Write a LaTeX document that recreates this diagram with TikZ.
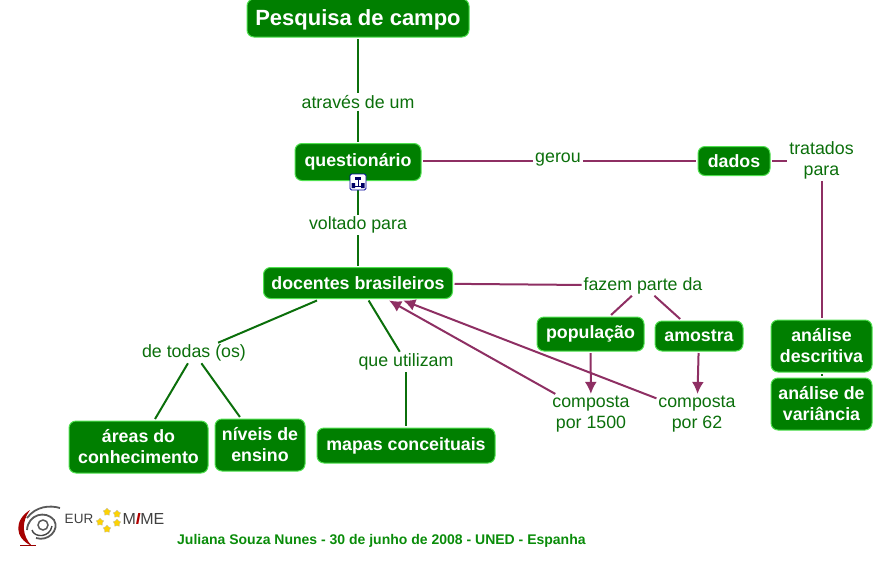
\documentclass[tikz,border=0pt]{standalone}
\usepackage{fontspec}
\setmainfont{Liberation Sans}
\usetikzlibrary{shapes.geometric,arrows.meta}
\definecolor{boxgreen}{HTML}{007F00}
\definecolor{boxrim}{HTML}{4FE04F}
\definecolor{linkgreen}{HTML}{0B6F0B}
\definecolor{linkpurple}{HTML}{8E2F63}
\tikzset{
    concept/.style={draw=boxrim, fill=boxgreen, text=white, line width=1pt, rounded corners=7pt,
        font=\fontsize{17.8}{21}\selectfont\bfseries, align=center, inner sep=0pt, outer sep=2pt},
    phrase/.style={text=linkgreen, font=\fontsize{17.8}{21}\selectfont, align=center, inner sep=1pt, outer sep=1pt},
    greenlink/.style={draw=linkgreen, line width=2pt},
    purplelink/.style={draw=linkpurple, line width=2pt},
    purplearrow/.style={purplelink, -{Latex[length=12pt,width=12pt]}}
}
\begin{document}
\begin{tikzpicture}[x=1pt,y=-1pt]
    \useasboundingbox (0,0) rectangle (875,560);

    % Concepts
    \node[concept, minimum width=222pt, minimum height=38pt, text depth=0pt, font=\fontsize{22}{25}\selectfont\bfseries] (pesquisa) at (358,18) {Pesquisa de campo};
    \node[concept, minimum width=126pt, minimum height=37pt] (questionario) at (358,162) {questionário};
    \node[concept, minimum width=72pt, minimum height=29pt] (dados) at (734,161) {dados};
    \node[concept, minimum width=189pt, minimum height=31pt] (docentes) at (358,283) {docentes brasileiros};
    \node[concept, minimum width=107pt, minimum height=34pt] (populacao) at (590.5,334) {população};
    \node[concept, minimum width=88pt, minimum height=30pt] (amostra) at (699,336) {amostra};
    \node[concept, minimum width=101pt, minimum height=52pt] (descritiva) at (821.5,346) {análise\\descritiva};
    \node[concept, minimum width=101pt, minimum height=52pt] (variancia) at (821.5,404) {análise de\\variância};
    \node[concept, minimum width=139pt, minimum height=52pt] (areas) at (138.5,447) {áreas do\\conhecimento};
    \node[concept, minimum width=90pt, minimum height=52pt] (niveis) at (260,445) {níveis de\\ensino};
    \node[concept, minimum width=178pt, minimum height=35pt] (mapas) at (406,445.5) {mapas conceituais};

    % Linking phrases
    \node[phrase] (atraves) at (358,102) {através de um};
    \node[phrase] (voltado) at (358,225) {voltado para};
    \node[phrase] (gerou) at (558,160) {gerou};
    \node[phrase] (tratados) at (821.5,160) {tratados\\para};
    \node[phrase] (fazem) at (643,285.5) {fazem parte da};
    \node[phrase] (detodas) at (194,353) {de todas (os)};
    \node[phrase] (utilizam) at (406,362) {que utilizam};
    \node[phrase] (comp1500) at (591,414) {composta\\por 1500};
    \node[phrase] (comp62) at (697,414) {composta\\por 62};

    % Green links
    \draw[greenlink] (pesquisa) -- (atraves);
    \draw[greenlink] (atraves) -- (questionario);
    \draw[greenlink] (questionario) -- (voltado);
    \draw[greenlink] (voltado) -- (docentes);
    \draw[greenlink] (docentes) -- (detodas);
    \draw[greenlink] (docentes) -- (utilizam);
    \draw[greenlink] (detodas) -- (areas);
    \draw[greenlink] (detodas) -- (niveis);
    \draw[greenlink] (utilizam) -- (mapas);
    \draw[greenlink] (descritiva) -- (variancia);

    % Purple links
    \draw[purplelink] (questionario.east |- dados) -- (gerou.west |- dados);
    \draw[purplelink] (gerou.east |- dados) -- (dados);
    \draw[purplelink] (dados) -- (tratados.west |- dados);
    \draw[purplelink] (tratados) -- (descritiva);
    \draw[purplelink] (docentes) -- (fazem);
    \draw[purplelink] (fazem) -- (populacao);
    \draw[purplelink] (fazem) -- (amostra);
    \draw[purplearrow] (populacao) -- (comp1500);
    \draw[purplearrow] (amostra) -- (comp62);
    \draw[purplearrow] (comp1500) -- (docentes);
    \draw[purplearrow] (comp62) -- (docentes);

    % Icon under questionario
    \node[draw=blue!60!black, fill=white, rounded corners=1.5pt, line width=0.8pt, minimum size=16pt, inner sep=0pt] (icone) at (358,182) {};
    \fill[blue!40!black] (355,176.5) rectangle (361,180);
    \draw[blue!40!black, line width=1pt] (358,180) -- (358,186) (353.5,186) -- (362.5,186);
    \fill[blue!40!black] (351.5,183) rectangle (355,188) (361,183) rectangle (364.5,188);

    % Logo
    \fill[red!65!black] (30,510) .. controls (14,520) and (14,538) .. (32,546) .. controls (22,536) and (21,522) .. cycle;
    \draw[red!60!black, line width=1.5pt] (20,545.5) -- (36,545.5);
    \draw[gray!70!black, line width=1.8pt] (27,518) .. controls (36,506) and (50,505) .. (60,508);
    \draw[gray!70!black, line width=1.8pt] (27,530) .. controls (28,514) and (46,510) .. (54,520) .. controls (60,530) and (48,542) .. (36,538);
    \draw[gray!55!black, line width=1.4pt] (32,530) .. controls (34,538) and (50,538) .. (52,526);
    \draw[gray!70!black, line width=1.5pt] (43,525) circle (5pt);
    \node[text=black!75, font=\fontsize{13.5}{16}\selectfont, inner sep=0pt] (logoeur) at (79,519) {EUR};
    \node[text=black!75, font=\fontsize{16}{16}\selectfont, inner sep=0pt] (logomime) at (143.5,519) {M\textcolor{red!70!black}{\itshape\bfseries I}ME};
    \foreach \sx/\sy [count=\si] in {107/512,117/514,100/522,117/523,107/529}
        \node[star, star points=5, fill=yellow!70!orange, draw=gray!50, line width=0.3pt, minimum size=8pt, inner sep=0pt] (estrela\si) at (\sx,\sy) {};

    % Footer
    \node[anchor=west, text=linkgreen!80!green, font=\fontsize{14}{15}\selectfont\bfseries, inner sep=0pt] (rodape) at (177,541) {Juliana Souza Nunes - 30 de junho de 2008 - UNED - Espanha};
\end{tikzpicture}
\end{document}
